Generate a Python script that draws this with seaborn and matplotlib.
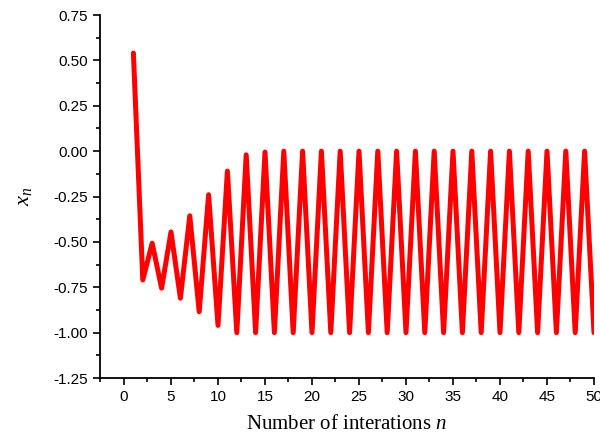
import numpy as np
import pandas as pd
import matplotlib
matplotlib.use("Agg")
import matplotlib.pyplot as plt
from matplotlib.ticker import MultipleLocator, FormatStrFormatter
import seaborn as sns

n_values = list(range(1, 51))
early_x = [0.54, -0.71, -0.507, -0.755, -0.445, -0.81, -0.356, -0.885, -0.24, -0.96,
           -0.11, -1.0, -0.02, -1.0, -0.005]
late_x = [-1.0, 0.0, -1.0, 0.0, -1.0, 0.0, -1.0, 0.0, -1.0, 0.0,
          -1.0, 0.0, -1.0, 0.0, -1.0, 0.0, -1.0, 0.0, -1.0, 0.0,
          -1.0, 0.0, -1.0, 0.0, -1.0, 0.0, -1.0, 0.0, -1.0, 0.0,
          -1.0, 0.0, -1.0, 0.0, -1.0]
x_values = early_x + late_x

df = pd.DataFrame({"n": n_values, "x": x_values})

sns.set_style("ticks")
plt.rcParams['font.family'] = ['Liberation Sans', 'DejaVu Sans']
plt.rcParams['mathtext.fontset'] = 'custom'
plt.rcParams['mathtext.it'] = 'Liberation Serif:italic'
plt.rcParams['mathtext.rm'] = 'Liberation Serif'

fig = plt.figure(figsize=(6, 4.44), dpi=100)
ax = fig.add_axes([0.1667, 0.1486, 0.8233, 0.8176])
sns.lineplot(data=df, x="n", y="x", ax=ax, color="#ff0000", linewidth=3.6,
             solid_joinstyle="round", solid_capstyle="round")

ax.set_xlim(-2.55, 50)
ax.set_ylim(-1.25, 0.75)
ax.xaxis.set_major_locator(MultipleLocator(5))
ax.xaxis.set_minor_locator(MultipleLocator(2.5))
ax.yaxis.set_major_locator(MultipleLocator(0.25))
ax.yaxis.set_minor_locator(MultipleLocator(0.125))
ax.yaxis.set_major_formatter(FormatStrFormatter('%.2f'))
ax.tick_params(which='major', direction='out', length=5, width=1.2, labelsize=11,
               color='black', labelcolor='black')
ax.tick_params(which='minor', direction='out', length=3, width=1.2, color='black')
for side in ['left', 'bottom']:
    ax.spines[side].set_linewidth(1.3)
    ax.spines[side].set_color('black')
sns.despine(ax=ax)

ax.set_xlabel(r"Number of interations $\mathit{n}$", fontsize=15, family='Liberation Serif',
              labelpad=8, color='black')
ax.set_ylabel(r"$\mathit{x}_{\mathit{n}}$", fontsize=16, family='Liberation Serif',
              labelpad=14, color='black')

fig.savefig("out.png", dpi=100)
